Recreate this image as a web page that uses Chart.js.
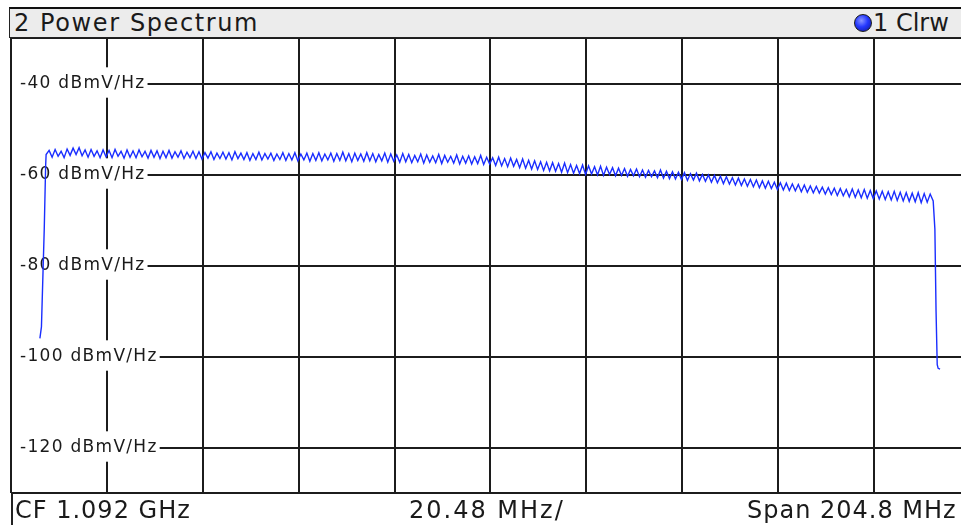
<!DOCTYPE html>
<html>
<head>
<meta charset="utf-8">
<title>2 Power Spectrum</title>
<script src="https://cdn.jsdelivr.net/npm/chart.js@4.4.1/dist/chart.umd.min.js"></script>
<style>
    html, body { margin: 0; padding: 0; background: #fff; overflow: hidden; }
    #screen {
        position: relative; width: 961px; height: 525px; overflow: hidden;
        font-family: "DejaVu Sans", Verdana, sans-serif; color: #1a1a1a;
    }
    #spectrum { position: absolute; left: 0; top: 0; }
    .bar-top {
        position: absolute; left: 9px; top: 7px; width: 990px; height: 28px;
        background: #ececec; border-top: 2px solid #111; border-left: 1px solid #222; border-bottom: 1px solid #222;
    }
    .bar-top .name {
        position: absolute; left: 4px; top: 0; font-size: 24px; line-height: 28px; letter-spacing: 1.6px; white-space: nowrap;
    }
    .bar-top .trace {
        position: absolute; left: 844px; top: 0; font-size: 24px; line-height: 28px; white-space: nowrap;
    }
    .dot {
        display: inline-block; width: 16px; height: 16px; border-radius: 50%; vertical-align: -1px; margin-right: 1px;
        background: radial-gradient(circle at 40% 35%, #8a95ff 0%, #2438ff 45%, #0c1590 100%);
        border: 1px solid #1a1a1a;
    }
    .bar-bottom {
        position: absolute; left: 11px; top: 494px; width: 990px; height: 31px; border-left: 2px solid #222;
    }
    .bar-bottom span {
        position: absolute; top: 2px; font-size: 24px; line-height: 28px; letter-spacing: 1px; white-space: nowrap;
    }
</style>
</head>
<body>
<div id="screen">
    <canvas id="spectrum" width="975" height="525"></canvas>
    <div class="bar-top">
        <span class="name">2 Power Spectrum</span>
        <span class="trace"><span class="dot"></span>1 Clrw</span>
    </div>
    <div class="bar-bottom">
        <span id="cfText" style="left:2px">CF 1.092 GHz</span>
        <span id="divText" style="left:396px; letter-spacing:2px">20.48 MHz/</span>
        <span id="spanText" style="left:734px">Span 204.8 MHz</span>
    </div>
</div>
<script>
// ось частот (МГц)
const centerMHz = 1092.0;
const spanMHz = 204.8;
const xDivisions = 10;

// ось уровня
const yMin = -130;
const yMax = -30;
const yGrid = [-130, -120, -100, -80, -60, -40, -30];
const yLabelled = [-120, -100, -80, -60, -40];
const levelUnit = 'dBmV/Hz';

// фронты спектра (МГц, дБ)
const riseEdge = [[995.77, -96.0], [996.1, -93.5], [996.7, -72.0], [997.0, -58.0]];
const fallEdge = [[1186.9, -72.0], [1187.15, -90.0], [1187.4, -101.8], [1187.6, -102.6], [1188.0, -102.8]];

// полка спектра, шаг 0.64 МГц
const sweepStartMHz = 997.1;
const sweepStepMHz = 0.64;
const sweepLevels = [
    -55.6, -54.7, -56.2, -54.5, -56.0, -54.9, -56.3, -54.4, -55.8, -54.2,
    -55.6, -54.1, -55.9, -54.6, -56.2, -54.5, -56.0, -54.8, -56.3, -54.6,
    -56.1, -54.7, -56.3, -54.5, -56.0, -54.9, -56.4, -54.6, -56.2, -54.8,
    -56.3, -54.6, -56.1, -54.9, -56.4, -54.7, -56.2, -54.8, -56.5, -54.9,
    -56.3, -54.7, -56.4, -55.0, -56.2, -54.8, -56.5, -55.1, -56.3, -54.9,
    -56.5, -55.0, -56.6, -55.2, -56.4, -55.0, -56.7, -55.3, -56.5, -55.1,
    -56.6, -55.2, -56.8, -55.0, -56.5, -55.3, -56.7, -55.2, -56.9, -55.4,
    -56.7, -55.1, -56.8, -55.4, -56.6, -55.3, -56.9, -55.5, -56.7, -55.2,
    -56.9, -55.4, -56.8, -55.2, -57.0, -55.5, -56.8, -55.3, -57.1, -55.4,
    -56.9, -55.2, -57.0, -55.5, -56.8, -55.3, -57.1, -55.4, -56.9, -55.1,
    -57.0, -55.4, -57.2, -55.3, -56.9, -55.5, -57.1, -55.2, -57.0, -55.4,
    -57.2, -55.6, -57.0, -55.3, -57.3, -55.5, -57.1, -55.7, -57.3, -55.4,
    -57.2, -55.6, -57.4, -55.8, -57.2, -55.5, -57.5, -55.7, -57.3, -55.9,
    -57.4, -55.6, -57.6, -55.8, -57.3, -56.0, -57.5, -55.7, -57.7, -56.0,
    -57.5, -55.9, -57.7, -56.1, -57.6, -55.8, -57.8, -56.2, -57.7, -56.3,
    -58.0, -56.2, -58.1, -56.5, -58.3, -56.4, -58.2, -56.7, -58.5, -56.6,
    -58.6, -56.9, -58.8, -57.0, -58.9, -57.2, -59.1, -57.3, -59.2, -57.4,
    -59.3, -57.6, -59.5, -57.5, -59.6, -57.8, -59.7, -58.0, -59.8, -57.9,
    -60.0, -58.1, -59.9, -58.3, -60.1, -58.2, -60.2, -58.4, -60.0, -58.5,
    -60.3, -58.6, -60.2, -58.7, -60.4, -58.9, -60.3, -58.8, -60.5, -59.0,
    -60.6, -59.1, -60.5, -59.2, -60.7, -59.0, -60.8, -59.3, -60.9, -59.4,
    -61.0, -59.5, -61.1, -59.6, -61.3, -59.8, -61.2, -59.7, -61.4, -60.0,
    -61.5, -60.1, -61.7, -60.2, -61.8, -60.4, -62.0, -60.5, -62.1, -60.7,
    -62.3, -60.8, -62.4, -61.0, -62.6, -61.1, -62.7, -61.2, -62.9, -61.4,
    -63.0, -61.5, -63.1, -61.7, -63.3, -61.8, -63.4, -61.9, -63.5, -62.1,
    -63.6, -62.2, -63.8, -62.3, -63.9, -62.5, -64.0, -62.6, -64.1, -62.8,
    -64.3, -62.9, -64.4, -63.0, -64.6, -63.1, -64.7, -63.3, -64.9, -63.2,
    -65.0, -63.4, -65.1, -63.3, -65.2, -63.5, -65.3, -63.6, -65.4, -63.7,
    -65.5, -63.8, -65.6, -63.7, -65.7, -63.9, -65.8, -64.0, -65.9, -64.1,
    -66.0, -64.0, -66.2, -64.2, -66.1, -64.3, -65.8
];

const xMin = centerMHz - spanMHz / 2;
const xMax = centerMHz + spanMHz / 2;
const xGrid = Array.from({ length: xDivisions + 1 }, (_, i) => xMin + i * spanMHz / xDivisions);

const tracePoints = [
    ...riseEdge.map(p => ({ x: p[0], y: p[1] })),
    ...sweepLevels.map((v, i) => ({ x: sweepStartMHz + i * sweepStepMHz, y: v })),
    ...fallEdge.map(p => ({ x: p[0], y: p[1] }))
];

// шрифт прибора разрежен сильнее, чем DejaVu
const spacingPlugin = {
    id: 'labelSpacing',
    beforeUpdate(chart) { chart.ctx.letterSpacing = '1.3px'; },
    beforeDraw(chart) { chart.ctx.letterSpacing = '1.3px'; }
};

const gridStyle = { color: '#1c1c1c', lineWidth: 2, drawTicks: false };

new Chart(document.getElementById('spectrum').getContext('2d'), {
    type: 'line',
    data: {
        datasets: [{
            label: '1 Clrw',
            data: tracePoints,
            borderColor: '#1a2eff',
            borderWidth: 1.4,
            pointRadius: 0,
            tension: 0,
            fill: false
        }]
    },
    options: {
        responsive: false,
        animation: false,
        normalized: true,
        layout: { padding: { left: 11, top: 38, right: 5, bottom: 32 } },
        plugins: {
            legend: { display: false },
            tooltip: { enabled: false }
        },
        scales: {
            x: {
                type: 'linear',
                min: xMin,
                max: xMax,
                afterBuildTicks: scale => { scale.ticks = xGrid.map(v => ({ value: v })); },
                grid: gridStyle,
                border: { display: false },
                ticks: { display: false }
            },
            y: {
                type: 'linear',
                min: yMin,
                max: yMax,
                afterBuildTicks: scale => { scale.ticks = yGrid.map(v => ({ value: v })); },
                afterFit: scale => { scale.width = 0; },
                grid: gridStyle,
                border: { display: false },
                ticks: {
                    mirror: true,
                    padding: 9,
                    autoSkip: false,
                    color: '#1a1a1a',
                    font: { family: 'DejaVu Sans', size: 17 },
                    callback: v => yLabelled.includes(v) ? v + ' ' + levelUnit : '',
                    showLabelBackdrop: true,
                    backdropColor: c => (c.tick && c.tick.label) ? '#ffffff' : 'rgba(0,0,0,0)',
                    backdropPadding: { top: 6, bottom: 4, left: 8, right: 2 }
                }
            }
        }
    },
    plugins: [spacingPlugin]
});
</script>
</body>
</html>
